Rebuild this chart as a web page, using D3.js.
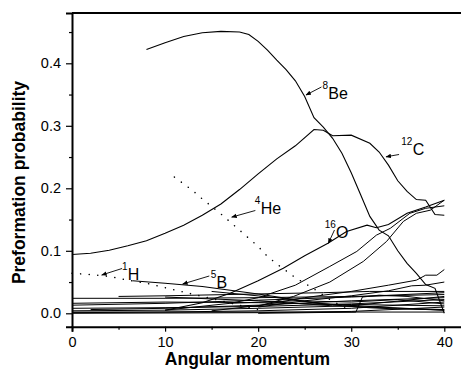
<!DOCTYPE html>
<html>
<head>
<meta charset="utf-8">
<script src="https://cdn.jsdelivr.net/npm/d3@7"></script>
<style>
  body { margin: 0; background: #fff; }
  text { font-family: Arial, "Liberation Sans", sans-serif; }
</style>
</head>
<body>
<script>
// Data: [angular momentum, preformation probability]
var be8 = [[8,0.422],[10,0.433],[12,0.443],[14,0.449],[16,0.451],[18,0.450],[19,0.446],[20,0.435],[21,0.421],
           [22,0.405],[23,0.390],[24,0.372],[25,0.347],[26,0.313],[27,0.298],[28,0.280],[29,0.256],[30,0.225],
           [31,0.190],[32,0.155],[33,0.133],[34,0.124],[35,0.100],[36,0.080],[37,0.064],[38,0.046],[39,0.040],[40,0.0]];
var c12 = [[0,0.094],[2,0.096],[4,0.101],[6,0.108],[8,0.116],[10,0.128],[12,0.141],[14,0.157],[16,0.175],
           [18,0.198],[20,0.223],[22,0.247],[24,0.268],[26,0.294],[27,0.293],[28,0.284],[30,0.285],[32,0.272],
           [33,0.258],[34,0.237],[35,0.212],[36,0.195],[37,0.182],[38,0.181],[39,0.158],[40,0.157]];
var he4 = [[11,0.218],[12,0.207],[13,0.196],[14,0.183],[15,0.171],[16,0.159],[17,0.146],[18,0.133],[19,0.120],
           [20,0.107],[21,0.091],[22,0.079],[23,0.068],[24,0.057],[25,0.048],[26,0.039],[27,0.029],[28,0.019],
           [29,0.012],[30,0.005]];
var h1  = [[0,0.064],[2,0.062],[4,0.059],[6,0.053],[8,0.048],[10,0.041],[12,0.034],[14,0.027],[16,0.020],
           [18,0.013],[20,0.006]];
var b5  = [[6.5,0.052],[10,0.048],[14,0.043],[17,0.037],[20,0.031],[23,0.024],[26,0.017],[29,0.012],
           [32,0.009],[35,0.007],[38,0.006],[40,0.005]];
var o16 = [[10,0.005],[14,0.017],[17,0.032],[20,0.052],[22.7,0.072],[25,0.092],[27.5,0.112],[29.5,0.131],
           [31.7,0.141],[32.7,0.137],[34,0.142],[36,0.160],[38,0.170],[40,0.181]];
// unlabelled curves
var others = [
  [[10,0.005],[17,0.016],[20,0.025],[24,0.045],[27.7,0.075],[30.6,0.099],[32.7,0.125],[34.2,0.136],[36.3,0.160],[38,0.168],[40,0.172]],
  [[15,0.004],[20.4,0.013],[23.8,0.027],[27.7,0.050],[31.3,0.083],[33.8,0.115],[35.6,0.147],[37,0.160],[38.5,0.165],[40,0.181]],
  [[20,0.012],[25,0.025],[30,0.035],[34,0.045],[37,0.053],[38,0.061],[39.2,0.061],[40,0.070]],
  [[20,0.010],[25,0.020],[30,0.028],[34,0.036],[36.5,0.044],[38,0.045],[40,0.050]],
  [[0,0.024],[10,0.024],[20,0.025],[30,0.027],[40,0.030]],
  [[5,0.027],[10,0.028],[20,0.031],[27,0.033],[32,0.035],[40,0.035]],
  [[0,0.013],[10,0.016],[20,0.021],[30,0.026],[40,0.033]],
  [[0,0.016],[10,0.018],[20,0.017],[30,0.014],[40,0.012]],
  [[0,0.008],[10,0.009],[20,0.011],[30,0.015],[40,0.022]],
  [[0,0.004],[10,0.005],[20,0.008],[30,0.012],[40,0.027]],
  [[0,0.001],[10,0.002],[20,0.004],[30,0.008],[40,0.018]],
  [[0,0.0],[20,0.001],[30,0.003],[40,0.010]],
  [[2,0.006],[10,0.008],[20,0.013],[30,0.020],[40,0.025]],
  [[10,0.026],[20,0.020],[28,0.012],[35,0.008],[40,0.006]],
  [[20,0.0],[30.5,0.002],[31.2,0.026],[33,0.029],[36,0.027],[40,0.020]],
  [[15,0.035],[22,0.025],[27,0.015],[33,0.010],[40,0.005]],
  [[0,0.002],[20,0.002],[40,0.002]],
  [[17,0.016],[24,0.020],[30,0.018],[35,0.022],[40,0.015]]
];
var xTicks = [0, 10, 20, 30, 40],
    xMinor = [5, 15, 25, 35],
    yTicks = [0.0, 0.1, 0.2, 0.3, 0.4],
    yMinor = [0.05, 0.15, 0.25, 0.35, 0.45];

// labels: mass number, symbol, text position, arrow start, arrow tip (data units)
var labels = [
  { a: "8",  s: "Be", tx: 27.54, ty: 0.3429, sx: 26.80, sy: 0.3621, ex: 25.14, ey: 0.3493 },
  { a: "12", s: "C",  tx: 36.60, ty: 0.2525, sx: 35.14, sy: 0.2541, ex: 33.74, ey: 0.2504 },
  { a: "4",  s: "He", tx: 20.27, ty: 0.1595, sx: 19.70, sy: 0.1645, ex: 17.16, ey: 0.1539 },
  { a: "16", s: "O",  tx: 28.37, ty: 0.1197, sx: 28.20, sy: 0.1333, ex: 27.54, ey: 0.1120 },
  { a: "1",  s: "H",  tx: 6.00,  ty: 0.0533, sx: 5.38,  sy: 0.0717, ex: 3.19,  ey: 0.0613 },
  { a: "5",  s: "B",  tx: 15.53, ty: 0.0403, sx: 14.75, sy: 0.0597, ex: 11.89, ey: 0.0469 }
];

var width = 461, height = 369;

var x = d3.scaleLinear().domain([0, 42]).range([72, 72 + 42 * 9.3075]);
var y = d3.scaleLinear().domain([0, 0.4]).range([313.3, 63.3]);
var yBottom = -0.0214, yTop = 0.4805;

var svg = d3.select("body").append("svg")
    .attr("width", width)
    .attr("height", height);

var line = d3.line()
    .x(function(d) { return x(d[0]); })
    .y(function(d) { return y(d[1]); });

svg.append("defs").append("marker")
    .attr("id", "arrow")
    .attr("viewBox", "0 0 10 10")
    .attr("refX", 9).attr("refY", 5)
    .attr("markerWidth", 5.5).attr("markerHeight", 5.5)
    .attr("markerUnits", "userSpaceOnUse")
    .attr("orient", "auto")
    .append("path")
      .attr("d", "M0,1 L10,5 L0,9 Z")
      .attr("fill", "#000");

// curves
var plot = svg.append("g");
plot.selectAll("path.other")
    .data(others)
    .enter().append("path")
      .attr("class", "other")
      .attr("d", line)
      .attr("fill", "none")
      .attr("stroke", "#000")
      .attr("stroke-width", 1);

[be8, c12, b5, o16].forEach(function(s) {
  plot.append("path")
      .attr("d", line(s))
      .attr("fill", "none")
      .attr("stroke", "#000")
      .attr("stroke-width", 1.1);
});

[he4, h1].forEach(function(s) {
  plot.append("path")
      .attr("d", line(s))
      .attr("fill", "none")
      .attr("stroke", "#000")
      .attr("stroke-width", 1.5)
      .attr("stroke-linecap", "round")
      .attr("stroke-dasharray", "0.1,8.5");
});

// frame top
svg.append("line")
    .attr("x1", x(0)).attr("x2", width + 2)
    .attr("y1", y(yTop)).attr("y2", y(yTop))
    .attr("stroke", "#000").attr("stroke-width", 2);

// axes
svg.append("g")
    .attr("transform", "translate(0," + y(yBottom) + ")")
    .call(d3.axisBottom(x).tickValues(xTicks).tickSize(5).tickPadding(5).tickFormat(d3.format("d")));
svg.append("g")
    .attr("transform", "translate(0," + y(yBottom) + ")")
    .call(d3.axisBottom(x).tickValues(xMinor).tickSize(3).tickFormat(""))
    .select(".domain").remove();

var yScaleFull = y.copy().domain([yBottom, yTop]).range([y(yBottom), y(yTop)]);
svg.append("g")
    .attr("transform", "translate(" + x(0) + ",0)")
    .call(d3.axisLeft(yScaleFull).tickValues(yTicks).tickSize(6).tickPadding(5).tickFormat(d3.format(".1f")));
svg.append("g")
    .attr("transform", "translate(" + x(0) + ",0)")
    .call(d3.axisLeft(yScaleFull).tickValues(yMinor).tickSize(3).tickFormat(""))
    .select(".domain").remove();

svg.selectAll(".domain").attr("stroke-width", 2);
svg.selectAll(".tick line").attr("stroke-width", 1.2);
svg.selectAll(".tick text")
    .attr("font-size", "14.5px")
    .attr("font-family", "Arial, 'Liberation Sans', sans-serif")
    .attr("fill", "#000");

// axis titles
svg.append("text")
    .attr("x", 247.5).attr("y", 365)
    .attr("text-anchor", "middle")
    .attr("font-size", "17.5px").attr("font-weight", "bold")
    .text("Angular momentum");
svg.append("text")
    .attr("transform", "translate(25,182.5) rotate(-90)")
    .attr("text-anchor", "middle")
    .attr("font-size", "17.5px").attr("font-weight", "bold")
    .text("Preformation probability");

// nucleus labels with arrows
labels.forEach(function(l) {
  var lx = x(l.tx), ly = y(l.ty);
  svg.append("text")
      .attr("x", lx - 0.3).attr("y", ly - 10)
      .attr("text-anchor", "end")
      .attr("font-size", "10px")
      .text(l.a);
  svg.append("text")
      .attr("x", lx).attr("y", ly)
      .attr("font-size", "16px")
      .text(l.s);
  svg.append("line")
      .attr("x1", x(l.sx)).attr("y1", y(l.sy))
      .attr("x2", x(l.ex)).attr("y2", y(l.ey))
      .attr("stroke", "#000").attr("stroke-width", 0.9)
      .attr("marker-end", "url(#arrow)");
});
</script>
</body>
</html>
